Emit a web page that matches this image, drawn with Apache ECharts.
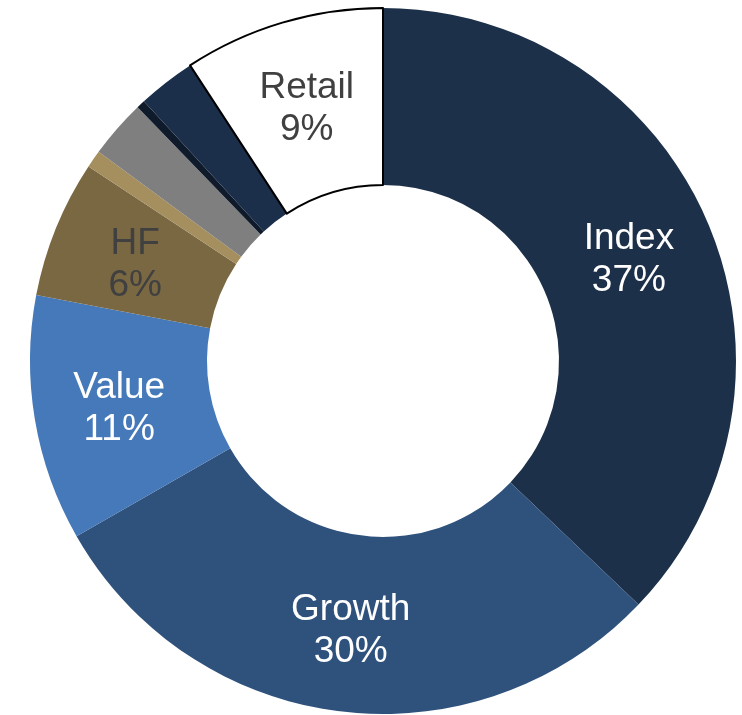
<!DOCTYPE html>
<html>
<head>
<meta charset="utf-8">
<title>Assets by Segment</title>
<script src="https://cdn.jsdelivr.net/npm/echarts@6/dist/echarts.min.js"></script>
<style>
  html, body { margin: 0; padding: 0; background: #ffffff; }
  #chart { width: 742px; height: 715px; }
</style>
</head>
<body>
<div id="chart"></div>
<script>
// Segment names, shares (%) and fills, listed clockwise from 12 o'clock
const segments = ['Index', 'Growth', 'Value', 'HF', 'Other 1', 'Other 2', 'Other 3', 'Other 4', 'Retail'];
const shares = [37.1, 29.6, 11.25, 6.3, 0.8, 2.67, 0.39, 2.64, 9.2];
const fills = ['#1d3049', '#2f527d', '#4679b9', '#7a6843', '#a58f5e', '#7f7f7f', '#0f1a2b', '#1b2f4a', '#ffffff'];
// Which segments carry a label, and the label ink
const labelled = [true, true, true, true, false, false, false, false, true];
const labelInk = ['#ffffff', '#ffffff', '#ffffff', '#404040', '#404040', '#404040', '#404040', '#404040', '#404040'];

const chart = echarts.init(document.getElementById('chart'), null, { renderer: 'canvas' });

const data = segments.map((name, i) => ({
  name: name,
  value: shares[i],
  itemStyle: {
    color: fills[i],
    borderColor: name === 'Retail' ? '#000000' : fills[i],
    borderWidth: name === 'Retail' ? 2 : 0
  },
  label: {
    show: labelled[i],
    color: labelInk[i]
  }
}));

chart.setOption({
  animation: false,
  backgroundColor: '#ffffff',
  series: [{
    type: 'pie',
    center: [383, 361],
    radius: [176, 353],
    startAngle: 90,
    clockwise: true,
    avoidLabelOverlap: false,
    emphasis: { disabled: true },
    labelLine: { show: false },
    label: {
      position: 'inside',
      fontFamily: '"Liberation Sans", Arial, sans-serif',
      fontSize: 37,
      lineHeight: 42,
      align: 'center',
      offset: [0, 4],
      formatter: p => p.name + '\n' + Math.round(p.percent) + '%'
    },
    data: data
  }]
});
</script>
</body>
</html>
